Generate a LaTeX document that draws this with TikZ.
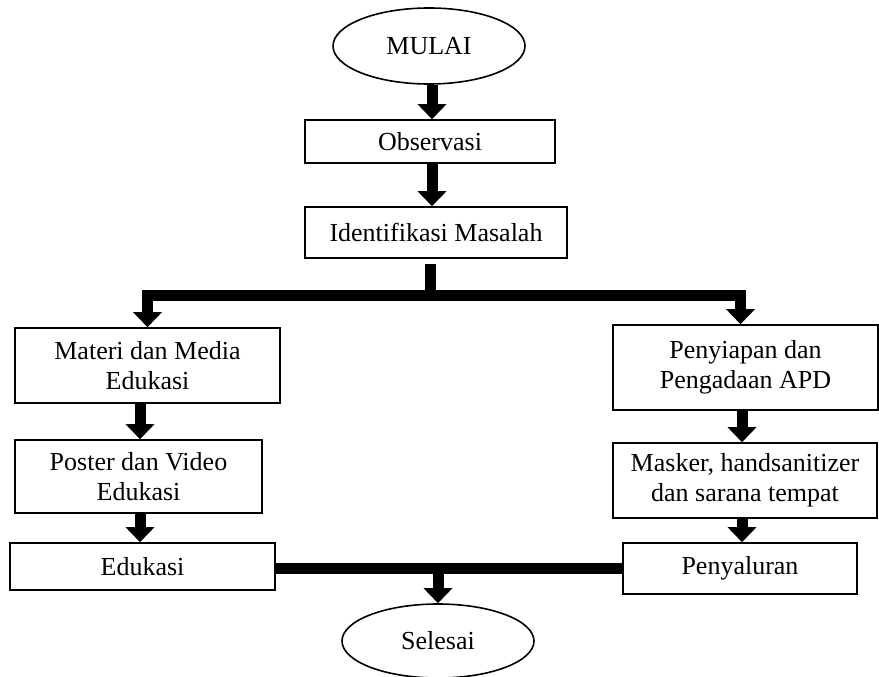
\documentclass[tikz,border=0pt]{standalone}
\usepackage{fontspec}
\setmainfont{Liberation Serif}
\usetikzlibrary{arrows.meta,shapes.geometric,calc}
\begin{document}
\begin{tikzpicture}[x=1pt,y=1pt,
  box/.style={draw,line width=1.6pt,rectangle,inner sep=0pt,align=center,font=\fontsize{26}{30}\selectfont},
  oval/.style={draw,line width=1.6pt,ellipse,inner sep=0pt,font=\fontsize{26}{30}\selectfont},
  bar/.style={line width=11pt,line join=miter},
  arr/.style={bar,-{Triangle[width=28pt,length=15pt]}}]
\useasboundingbox (0,0) rectangle (879,-677);
\fill[white] (0,0) rectangle (879,-677);
\node[oval,minimum width=192pt,minimum height=76pt] (mulai) at (429,-46) {MULAI};
\node[box,minimum width=250pt,minimum height=43pt] (obs) at (430,-141.5) {Observasi};
\node[box,minimum width=262pt,minimum height=51pt] (idm) at (436,-232.5) {Identifikasi Masalah};
\node[box,minimum width=265pt,minimum height=75pt] (mat) at (147.5,-365.5) {Materi dan Media\\Edukasi};
\node[box,minimum width=247pt,minimum height=73pt] (pos) at (138.5,-476.5) {Poster dan Video\\Edukasi};
\node[box,minimum width=265pt,minimum height=47pt] (edu) at (142.5,-566.5) {Edukasi};
\node[box,minimum width=265pt,minimum height=85pt] (pen) at (745.5,-367.5) {Penyiapan dan\\Pengadaan APD};
\node[box,minimum width=264pt,minimum height=75pt] (msk) at (745,-480.5) {Masker, handsanitizer\\dan sarana tempat};
\node[box,minimum width=234pt,minimum height=51pt] (pny) at (740,-568.5) {Penyaluran};
\node[oval,minimum width=192pt,minimum height=74pt] (sel) at (438,-641) {Selesai};
\coordinate (split) at (430,-295);
\coordinate (join) at (438,-568);
\draw[arr] (mulai.south -| 432,0) -- (obs.north -| 432,0);
\draw[arr] (obs.south -| 432,0) -- (idm.north -| 432,0);
\draw[bar] ($(idm.south -| split)+(0,-5)$) -- (split);
\draw[arr] (split) -| (mat.north);
\draw[arr] (split) -| ($(pen.north)+(-5,0)$);
\draw[arr] (mat.south -| 140,0) -- (pos.north -| 140,0);
\draw[arr] (pos.south -| 140,0) -- (edu.north -| 140,0);
\draw[arr] (pen.south -| 742,0) -- (msk.north -| 742,0);
\draw[arr] (msk.south -| 742,0) -- (pny.north -| 742,0);
\draw[bar] (edu.east |- join) -- (pny.west |- join);
\draw[arr] (join) -- (sel.north);
\end{tikzpicture}
\end{document}
